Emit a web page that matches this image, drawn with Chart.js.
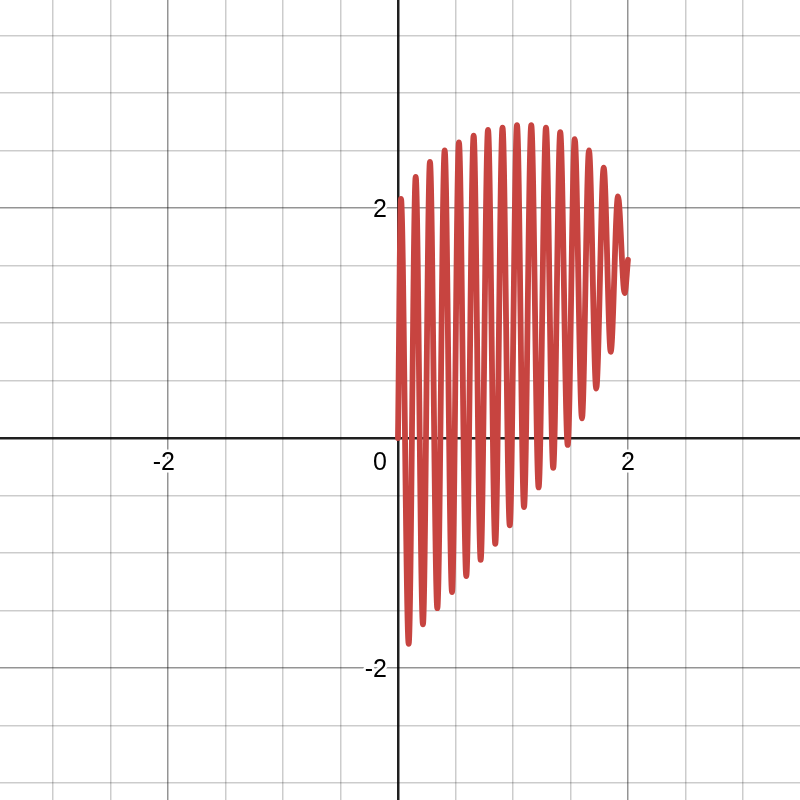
<!DOCTYPE html>
<html>
<head>
<meta charset="utf-8">
<title>Curva</title>
<script src="https://cdn.jsdelivr.net/npm/chart.js@4/dist/chart.umd.min.js"></script>
<style>
  html, body { margin: 0; padding: 0; background: #fff; }
  #chart { display: block; }
</style>
</head>
<body>
<canvas id="chart" width="800" height="800"></canvas>
<script>
// valores (picos e vales da curva)
const peakX = [0.026, 0.154, 0.278, 0.406, 0.530, 0.658, 0.783, 0.909, 1.035, 1.159, 1.287, 1.411, 1.537, 1.661, 1.789, 1.913];
const peakY = [2.08, 2.27, 2.40, 2.50, 2.57, 2.63, 2.68, 2.70, 2.72, 2.72, 2.70, 2.66, 2.60, 2.50, 2.35, 2.10];
const troughX = [0.093, 0.217, 0.342, 0.470, 0.594, 0.719, 0.846, 0.972, 1.096, 1.223, 1.350, 1.476, 1.600, 1.724, 1.850, 1.971];
const troughY = [-1.79, -1.62, -1.48, -1.34, -1.20, -1.06, -0.92, -0.76, -0.60, -0.43, -0.26, -0.06, 0.17, 0.43, 0.75, 1.26];
const startPoint = [0, 0];
const endPoint = [2, 1.55];

// rótulos dos eixos
const xLabels = [-2, 2];
const yLabels = [-2, 2];
const originLabel = '0';

// janela visível
const xMin = -3.461, xMax = 3.496;
const yMin = -3.148, yMax = 3.809;
const gridStep = 0.5;
const majorStep = 2;

let points = [{ x: startPoint[0], y: startPoint[1] }];
for (let i = 0; i < peakX.length; i++) {
    points.push({ x: peakX[i], y: peakY[i] });
    points.push({ x: troughX[i], y: troughY[i] });
}
points.push({ x: endPoint[0], y: endPoint[1] });

function gridTicks(scale) {
    var ticks = [];
    var first = Math.ceil(scale.min / gridStep);
    var last = Math.floor(scale.max / gridStep);
    for (var k = first; k <= last; k++) {
        ticks.push({ value: k * gridStep });
    }
    scale.ticks = ticks;
}

function gridColor(context) {
    var v = context.tick ? context.tick.value : 1;
    if (Math.abs(v) < 1e-9) return 'rgba(0,0,0,0.88)';
    if (Math.abs(v / majorStep - Math.round(v / majorStep)) < 1e-9) return 'rgba(0,0,0,0.42)';
    return 'rgba(0,0,0,0.2)';
}

function gridWidth(context) {
    var v = context.tick ? context.tick.value : 1;
    if (Math.abs(v) < 1e-9) return 2.5;
    return 1.5;
}

// rótulos numéricos com contorno branco, como no gráfico original
const axisLabels = {
    id: 'axisLabels',
    afterDraw: function(chart) {
        var ctx = chart.ctx;
        var xs = chart.scales.x;
        var ys = chart.scales.y;
        var x0 = xs.getPixelForValue(0);
        var y0 = ys.getPixelForValue(0);
        ctx.save();
        ctx.font = '25px "Liberation Sans", Arial, sans-serif';
        ctx.textBaseline = 'alphabetic';
        ctx.lineJoin = 'round';
        ctx.lineWidth = 5;
        ctx.strokeStyle = '#fff';
        ctx.fillStyle = '#000';

        function put(text, x, y, align) {
            ctx.textAlign = align;
            ctx.strokeText(text, x, y);
            ctx.fillText(text, x, y);
        }

        xLabels.forEach(function(v) {
            var px = xs.getPixelForValue(v);
            var digits = String(Math.abs(v));
            var half = ctx.measureText(digits).width / 2;
            put(String(v), px + half, y0 + 32, 'right');
        });
        yLabels.forEach(function(v) {
            var py = ys.getPixelForValue(v);
            put(String(v), x0 - 11, py + 9, 'right');
        });
        put(originLabel, x0 - 11, y0 + 32, 'right');
        ctx.restore();
    }
};

var ctx = document.getElementById('chart').getContext('2d');
var chart = new Chart(ctx, {
    type: 'scatter',
    data: {
        datasets: [{
            data: points,
            showLine: true,
            borderColor: 'rgba(199, 68, 64, 1)',
            borderWidth: 5.8,
            borderCapStyle: 'round',
            borderJoinStyle: 'round',
            cubicInterpolationMode: 'monotone',
            pointRadius: 0,
            pointHoverRadius: 0,
            fill: false
        }]
    },
    options: {
        responsive: false,
        animation: false,
        devicePixelRatio: 1,
        layout: { padding: 0 },
        plugins: {
            legend: { display: false },
            tooltip: { enabled: false }
        },
        scales: {
            x: {
                type: 'linear',
                min: xMin,
                max: xMax,
                afterBuildTicks: gridTicks,
                ticks: { display: false },
                border: { display: false },
                grid: { drawTicks: false, color: gridColor, lineWidth: gridWidth }
            },
            y: {
                type: 'linear',
                min: yMin,
                max: yMax,
                afterBuildTicks: gridTicks,
                ticks: { display: false },
                border: { display: false },
                grid: { drawTicks: false, color: gridColor, lineWidth: gridWidth }
            }
        }
    },
    plugins: [axisLabels]
});
</script>
</body>
</html>
